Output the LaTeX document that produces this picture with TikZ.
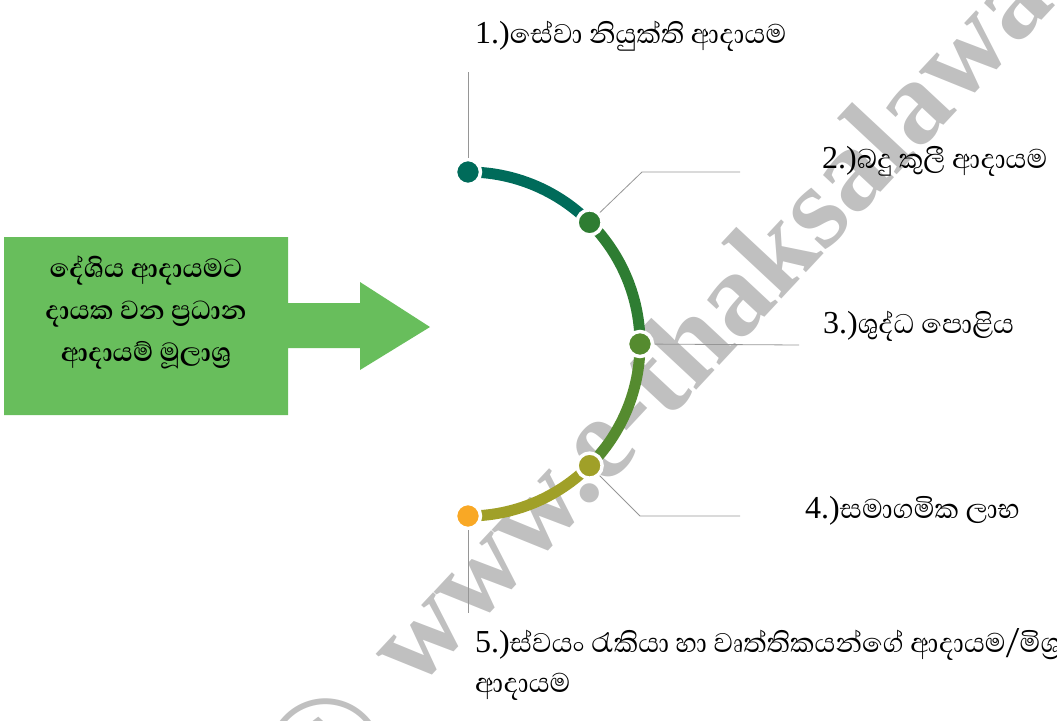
\documentclass[tikz,border=0pt]{standalone}
\usepackage{fontspec}
\setmainfont{Liberation Serif}
\newfontfamily\sinfont[Script=Sinhala,Scale=1.08]{Abhaya Libre}
\usepackage{tikz}
\usetikzlibrary{calc}
\definecolor{boxgreen}{RGB}{104,190,92}
\definecolor{segteal}{RGB}{0,107,90}
\definecolor{segdark}{RGB}{46,125,50}
\definecolor{segmid}{RGB}{85,139,47}
\definecolor{segolive}{RGB}{160,160,40}
\definecolor{dotorange}{RGB}{249,168,37}
\definecolor{wmgray}{RGB}{192,192,192}
\definecolor{leadgray}{RGB}{150,150,150}

\begin{document}
\begin{tikzpicture}[x=1pt,y=-1pt,
    dot/.style={circle,inner sep=0pt,minimum size=25pt,draw=white,line width=3.5pt},
    seg/.style={line width=11pt},
    leader/.style={draw=leadgray,line width=0.8pt},
    lbl/.style={anchor=base west,inner sep=0pt,font=\fontsize{32}{40}\selectfont}]
    \useasboundingbox (0,0) rectangle (1057,720);
    \pgfmathsetmacro{\xc}{468}
    \pgfmathsetmacro{\yc}{344}
    \pgfmathsetmacro{\r}{172}
    \pgfmathsetmacro{\d}{\r*cos(45)}
    % watermark
    \node[rotate=47,anchor=base west,inner sep=0pt,text=wmgray,
      font=\bfseries\fontsize{118}{118}\selectfont] (wm) at (415,692)
      {www.e-thaksalawa.moe.gov.lk};
    \node[rotate=47,inner sep=0pt,text=wmgray,
      font=\fontsize{170}{170}\selectfont] (copy) at (326,756) {©};
    % source box and arrow
    \fill[boxgreen] (4,237) -- (288,237) -- (288,303) -- (360,303) -- (360,282)
      -- (430,327) -- (360,370) -- (360,348) -- (288,348) -- (288,415)
      -- (4,415) -- cycle;
    \node[align=center,font=\sinfont\bfseries\fontsize{31}{42}\selectfont] (src) at (146,313)
      {දේශිය ආදායමට\\දායක වන ප්^^^^200dරධාන\\ආදායම් මූලාශ්^^^^200dර};
    % arc segments
    \coordinate (c) at (\xc,\yc);
    \coordinate (p1) at (\xc,\yc-\r);
    \coordinate (p2) at (\xc+\d,\yc-\d);
    \coordinate (p3) at (\xc+\r,\yc);
    \coordinate (p4) at (\xc+\d,\yc+\d);
    \coordinate (p5) at (\xc,\yc+\r);
    \draw[seg,segteal] (p1) arc (-90:-45:\r);
    \draw[seg,segdark] (p2) arc (-45:0:\r);
    \draw[seg,segmid] (p3) arc (0:45:\r);
    \draw[seg,segolive] (p4) arc (45:90:\r);
    \node[dot,fill=segteal] (d1) at (p1) {};
    \node[dot,fill=segdark] (d2) at (p2) {};
    \node[dot,fill=segmid] (d3) at (p3) {};
    \node[dot,fill=segolive] (d4) at (p4) {};
    \node[dot,fill=dotorange] (d5) at (p5) {};
    % leaders
    \coordinate (e1) at (468,72);
    \coordinate (k2) at (642,172);
    \coordinate (e2) at (740,172);
    \coordinate (e3) at (799,345);
    \coordinate (k4) at (640,516);
    \coordinate (e4) at (740,516);
    \coordinate (e5) at (468,613);
    \draw[leader] (d1) -- (e1);
    \draw[leader] (d2) -- (k2) -- (e2);
    \draw[leader] (d3) -- (e3);
    \draw[leader] (d4) -- (k4) -- (e4);
    \draw[leader] (d5) -- (e5);
    % labels
    \node[lbl] (t1) at (475,43) {1.)\sinfont සේවා නියුක්ති ආදායම};
    \node[lbl] (t2) at (822,168) {2.)\sinfont බදු කුලී ආදායම};
    \node[lbl] (t3) at (823,333) {3.)\sinfont ශුද්ධ පොළිය};
    \node[lbl] (t4) at (805,518) {4.)\sinfont සමාගමික ලාභ};
    \node[lbl] (t5) at (475,652)
      {5.)\sinfont ස්වයං රැකියා හා වෘත්තිකයන්ගේ ආදායම/මිශ්^^^^200dර};
    \node[lbl,font=\sinfont\fontsize{32}{40}\selectfont] (t5b) at (475,692) {ආදායම};
\end{tikzpicture}
\end{document}
